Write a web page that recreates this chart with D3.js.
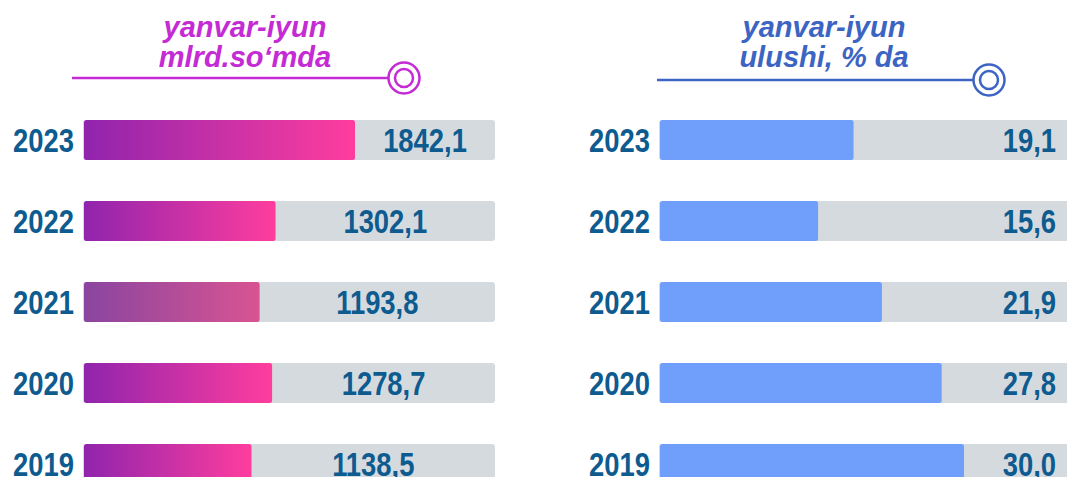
<!DOCTYPE html>
<html lang="en">
<head>
  <meta charset="UTF-8">
  <title>Yanvar-iyun</title>
  <script src="https://d3js.org/d3.v7.min.js"></script>
  <style>
    body { margin: 0; background: #fff; }
    .num { font-family: "Liberation Sans", Arial, sans-serif; font-weight: bold; fill: #0d5b8f; }
    .ttl { font-family: "Liberation Sans", Arial, sans-serif; font-weight: bold; font-style: italic; }
  </style>
</head>
<body>
  <svg id="chart" width="1067" height="477"></svg>
  <script>
    // data
    const years = ["2023", "2022", "2021", "2020", "2019"];
    const amounts = [1842.1, 1302.1, 1193.8, 1278.7, 1138.5];   // mlrd. so'm
    const shares = [19.1, 15.6, 21.9, 27.8, 30.0];               // % da
    const amountLabels = ["1842,1", "1302,1", "1193,8", "1278,7", "1138,5"];
    const shareLabels = ["19,1", "15,6", "21,9", "27,8", "30,0"];
    const leftTitle = ["yanvar-iyun", "mlrd.so‘mda"];
    const rightTitle = ["yanvar-iyun", "ulushi, % da"];

    const svg = d3.select("#chart");
    const defs = svg.append("defs");

    function gradient(id, from, to) {
      const gr = defs.append("linearGradient").attr("id", id)
        .attr("x1", "0%").attr("x2", "100%").attr("y1", "0%").attr("y2", "0%");
      gr.append("stop").attr("offset", "0%").attr("stop-color", from);
      gr.append("stop").attr("offset", "100%").attr("stop-color", to);
    }
    gradient("pink", "#9024ad", "#ff3d9e");
    gradient("pinkDim", "#8a45a0", "#d85492");

    const y = d3.scaleBand().domain(years).range([120, 484]).paddingInner(0.506).paddingOuter(0);

    // no narrow font installed, so squeeze the bold one
    const squeeze = 0.83;

    function panel(opt) {
      const g = svg.append("g");
      const x = d3.scaleLinear().domain([0, opt.max]).range([opt.x0, opt.x1]);

      // title
      const t = g.append("text").attr("class", "ttl")
        .attr("x", opt.titleX).attr("y", 37)
        .attr("text-anchor", "middle").attr("font-size", 29).attr("fill", opt.color);
      opt.title.forEach((s, i) => t.append("tspan").attr("x", opt.titleX).attr("dy", i ? 30 : 0).text(s));

      g.append("line").attr("x1", opt.lineX0).attr("x2", opt.circX - 16)
        .attr("y1", opt.lineY).attr("y2", opt.lineY)
        .attr("stroke", opt.color).attr("stroke-width", 2.5);
      g.append("circle").attr("cx", opt.circX).attr("cy", opt.lineY).attr("r", 15.5)
        .attr("fill", "#fff").attr("stroke", opt.color).attr("stroke-width", 2.5);
      g.append("circle").attr("cx", opt.circX).attr("cy", opt.lineY).attr("r", 9)
        .attr("fill", "#fff").attr("stroke", opt.color).attr("stroke-width", 2.5);

      // grey tracks
      g.selectAll(".track").data(years).join("rect").attr("class", "track")
        .attr("x", opt.x0 - 1).attr("y", d => y(d))
        .attr("width", opt.trackEnd - opt.x0 + 1).attr("height", y.bandwidth())
        .attr("rx", 3).attr("fill", "#d5dadf");

      // bars
      g.selectAll(".bar").data(opt.values).join("rect").attr("class", "bar")
        .attr("x", opt.x0).attr("y", (d, i) => y(years[i]))
        .attr("width", d => x(d) - opt.x0).attr("height", y.bandwidth())
        .attr("rx", 2.5).attr("fill", (d, i) => opt.fill(i));

      const mid = d => y(d) + y.bandwidth() / 2 + 12;

      // year labels
      g.selectAll(".yr").data(years).join("text").attr("class", "num yr")
        .attr("transform", d => `translate(${opt.yearX},${mid(d)}) scale(${squeeze},1)`)
        .attr("text-anchor", "end").attr("font-size", 33).text(d => d);

      // value labels: centred in the free part of the track, or right-aligned
      g.selectAll(".val").data(opt.labels).join("text").attr("class", "num val")
        .attr("transform", (d, i) => {
          const vx = opt.valX != null ? opt.valX : (x(opt.values[i]) + opt.trackEnd) / 2;
          return `translate(${vx},${mid(years[i])}) scale(${squeeze},1)`;
        })
        .attr("text-anchor", opt.valAnchor).attr("font-size", 33).text(d => d);
    }

    panel({
      values: amounts, labels: amountLabels, title: leftTitle, max: 1842.1,
      x0: 84, x1: 355, trackEnd: 495, color: "#c42bd4",
      fill: i => years[i] === "2021" ? "url(#pinkDim)" : "url(#pink)",
      titleX: 245, lineX0: 72, lineY: 78, circX: 404, yearX: 74, valX: null, valAnchor: "middle"
    });

    panel({
      values: shares, labels: shareLabels, title: rightTitle, max: 30,
      x0: 660, x1: 964, trackEnd: 1075, color: "#3c64c2",
      fill: () => "#6f9ffa",
      titleX: 824, lineX0: 657, lineY: 80, circX: 989, yearX: 650, valX: 1056, valAnchor: "end"
    });
  </script>
</body>
</html>
